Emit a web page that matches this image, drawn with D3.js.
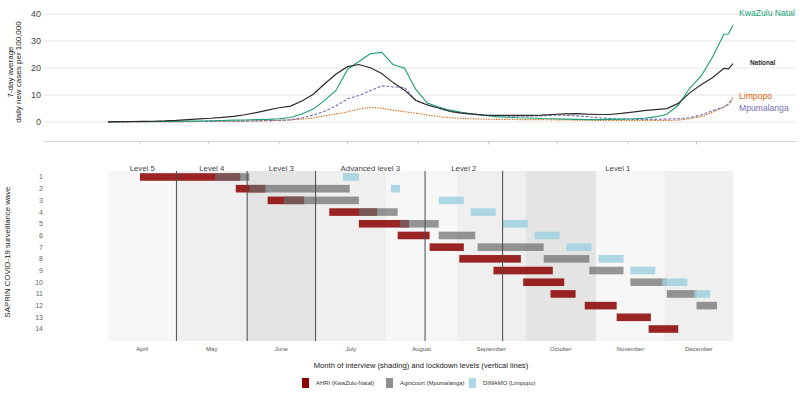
<!DOCTYPE html>
<html><head><meta charset="utf-8">
<script src="https://cdn.jsdelivr.net/npm/d3@7"></script>
<style>body{margin:0;background:#fff;} svg{font-family:"Liberation Sans",Arial,sans-serif;display:block;}</style>
</head><body><svg id="c" width="800" height="400"></svg>
<script>
const dates = [
 "2020-04-01","2020-04-06","2020-04-11","2020-04-16","2020-04-21","2020-04-26","2020-05-01","2020-05-06","2020-05-11","2020-05-16",
 "2020-05-21","2020-05-26","2020-05-31","2020-06-05","2020-06-10","2020-06-15","2020-06-20","2020-06-25","2020-06-30","2020-07-05",
 "2020-07-10","2020-07-15","2020-07-20","2020-07-25","2020-07-30","2020-08-04","2020-08-09","2020-08-14","2020-08-19","2020-08-24",
 "2020-08-29","2020-09-03","2020-09-08","2020-09-13","2020-09-18","2020-09-23","2020-09-28","2020-10-03","2020-10-08","2020-10-13",
 "2020-10-18","2020-10-23","2020-10-28","2020-11-02","2020-11-07","2020-11-12","2020-11-17","2020-11-22","2020-11-27","2020-12-02",
 "2020-12-07","2020-12-12","2020-12-17","2020-12-22","2020-12-27","2020-12-29","2020-12-31"];
const national = [
 0.1,0.15,0.2,0.25,0.3,0.4,0.6,0.9,1.2,1.4,
 1.7,2.1,2.7,3.5,4.4,5.3,5.9,7.8,10.3,14.2,
 17.8,20.5,21.3,20.1,18.0,14.6,11.8,8.0,6.3,5.2,
 3.9,3.3,2.9,2.6,2.5,2.5,2.5,2.5,2.6,2.8,
 3.0,3.1,2.9,2.8,2.8,3.2,3.7,4.2,4.6,5.0,
 6.9,10.8,13.8,16.4,19.9,19.7,21.6];
const kwazuluNatal = [
 0.05,0.1,0.1,0.15,0.2,0.25,0.3,0.35,0.4,0.5,
 0.6,0.7,0.75,0.9,1.0,1.2,1.7,3.0,4.8,8.0,
 11.8,19.5,22.4,25.3,25.8,21.3,19.9,12.0,7.0,5.6,
 4.4,3.6,3.0,2.4,2.0,1.8,1.6,1.5,1.3,1.2,
 1.1,1.0,0.9,0.9,1.0,1.1,1.2,1.4,1.9,2.9,
 6.2,12.5,17.0,24.0,32.5,32.6,35.8];
const limpopo = [
 0.05,0.05,0.05,0.1,0.1,0.1,0.15,0.15,0.2,0.2,
 0.25,0.3,0.35,0.45,0.55,0.7,0.8,1.1,1.5,2.3,
 3.0,3.8,4.8,5.4,5.1,4.4,3.8,3.3,2.6,2.0,
 1.6,1.4,1.2,1.1,1.0,1.0,0.9,0.9,0.9,0.8,
 0.8,0.7,0.7,0.6,0.6,0.6,0.6,0.6,0.6,0.6,
 0.7,1.2,2.0,3.6,5.5,6.8,9.2];
const mpumalanga = [
 0.05,0.05,0.1,0.1,0.1,0.15,0.15,0.2,0.2,0.25,
 0.3,0.3,0.35,0.4,0.5,0.6,0.8,1.5,2.6,4.0,
 6.0,8.6,9.8,11.6,13.4,13.0,12.8,8.0,6.5,5.0,
 4.0,3.3,2.9,2.6,2.4,2.2,2.2,2.2,2.3,2.5,
 2.5,2.3,2.0,1.6,1.3,1.1,1.0,1.0,1.0,1.1,
 1.2,1.6,2.6,4.2,5.6,6.6,8.4];
const seriesNames = ["Limpopo","Mpumalanga","KwaZulu Natal","National"];
const yTicks = [0,10,20,30,40];

const months = ["April","May","June","July","August","September","October","November","December"];
const monthStarts = ["2020-04-01","2020-05-01","2020-06-01","2020-07-01","2020-08-01","2020-09-01","2020-10-01","2020-11-01","2020-12-01","2020-12-31"];
const monthShade = [1,2,3,2,1,2,3,1,2];
const levels = ["Level 5","Level 4","Level 3","Advanced level 3","Level 2","Level 1"];
const levelStarts = ["2020-04-01","2020-05-01","2020-06-01","2020-07-01","2020-08-18","2020-09-21","2020-12-31"];
const waves = [1,2,3,4,5,6,7,8,9,10,11,12,13,14];

const ahriWave  = [1,2,3,4,5,6,7,8,9,10,11,12,13,14];
const ahriStart = ["2020-04-15","2020-05-27","2020-06-10","2020-07-07","2020-07-20","2020-08-06","2020-08-20","2020-09-02","2020-09-17","2020-09-30","2020-10-12","2020-10-27","2020-11-10","2020-11-24"];
const ahriEnd   = ["2020-05-29","2020-06-09","2020-06-26","2020-07-28","2020-08-11","2020-08-20","2020-09-04","2020-09-29","2020-10-13","2020-10-18","2020-10-23","2020-11-10","2020-11-25","2020-12-07"];
const agWave  = [1,2,3,4,5,6,7,8,9,10,11,12];
const agStart = ["2020-05-18","2020-06-02","2020-06-17","2020-07-20","2020-08-07","2020-08-24","2020-09-10","2020-10-09","2020-10-29","2020-11-16","2020-12-02","2020-12-15"];
const agEnd   = ["2020-06-02","2020-07-16","2020-07-20","2020-08-06","2020-08-24","2020-09-09","2020-10-09","2020-10-29","2020-11-13","2020-12-02","2020-12-15","2020-12-24"];
const dimWave  = [1,2,3,4,5,6,7,8,9,10,11];
const dimStart = ["2020-07-13","2020-08-03","2020-08-24","2020-09-07","2020-09-21","2020-10-05","2020-10-19","2020-11-02","2020-11-16","2020-11-30","2020-12-14"];
const dimEnd   = ["2020-07-20","2020-08-07","2020-09-04","2020-09-18","2020-10-02","2020-10-16","2020-10-30","2020-11-13","2020-11-27","2020-12-11","2020-12-21"];
const sites = ["AHRI (KwaZulu-Natal)","Agincourt (Mpumalanga)","DIMAMO (Limpopo)"];

(function () {
const parse = d3.timeParse("%Y-%m-%d");
const svg = d3.select("#c");
const x = d3.scaleTime().domain([parse("2020-04-01"), parse("2020-12-31")]).range([108, 733]);

// ---------- top panel ----------
const y = d3.scaleLinear().domain([-7.2, 40]).range([141.5, 14]);
const gTop = svg.append("g");
gTop.selectAll("line.grid").data(yTicks).join("line")
  .attr("x1", 44).attr("x2", 796).attr("y1", d => y(d)).attr("y2", d => y(d))
  .attr("stroke", "#e6e6e6").attr("stroke-width", 1);
gTop.selectAll("text.yt").data(yTicks).join("text")
  .attr("x", 41).attr("y", d => y(d)).attr("dy", "0.35em")
  .attr("text-anchor", "end").attr("font-size", 9).attr("fill", "#444").text(d => d);
gTop.append("line").attr("x1", 44).attr("x2", 797).attr("y1", 141.5).attr("y2", 141.5)
  .attr("stroke", "#d6d6d6");
const midMonths = monthStarts.slice(0, 9).map(s => d3.timeDay.offset(parse(s), 14));
gTop.selectAll("line.xt").data(midMonths).join("line")
  .attr("x1", d => x(d)).attr("x2", d => x(d)).attr("y1", 141.5).attr("y2", 144.5)
  .attr("stroke", "#c8c8c8");
gTop.append("text").attr("transform", "translate(12.5,72) rotate(-90)")
  .attr("text-anchor", "middle").attr("font-size", 8).attr("fill", "#222")
  .text("7-day average");
gTop.append("text").attr("transform", "translate(20.5,72) rotate(-90)")
  .attr("text-anchor", "middle").attr("font-size", 8).attr("fill", "#222")
  .text("daily new cases per 100,000");

const seriesData = [limpopo, mpumalanga, kwazuluNatal, national];
const seriesColor = ["#d95f02", "#7570b3", "#1b9e77", "#2b2b2b"];
const seriesDash = ["1.3,1.3", "3,1.6", null, null];
const line = d3.line().x((d, i) => x(parse(dates[i]))).y(d => y(d));
seriesData.forEach((s, k) => {
  gTop.append("path").datum(s).attr("d", line).attr("fill", "none")
    .attr("stroke", seriesColor[k]).attr("stroke-width", k === 3 ? 1.2 : 1.1)
    .attr("stroke-dasharray", seriesDash[k]);
});
const lastI = dates.length - 1;
const labelSpec = [
  {k: 2, dx: 6, yOff: -12.5, size: 8.6},
  {k: 3, dx: 17, yOff: -0.5, size: 6.4},
  {k: 0, dx: 6, yOff: -1.5, size: 8.6},
  {k: 1, dx: 6, yOff: 8.5, size: 8.6}
];
labelSpec.forEach(l => {
  const s = seriesData[l.k];
  gTop.append("text").attr("x", x(parse(dates[lastI])) + l.dx)
    .attr("y", y(s[lastI]) + l.yOff).attr("dy", "0.35em")
    .attr("font-size", l.size).attr("fill", seriesColor[l.k])
    .attr("font-weight", l.k === 3 ? "bold" : "normal")
    .text(seriesNames[l.k]);
});

// ---------- bottom panel ----------
const yb = d3.scalePoint().domain(waves).range([177, 329]);
const bot = svg.append("g");
const shadeColor = d3.scaleOrdinal().domain([1, 2, 3]).range(["#f7f7f7", "#efefef", "#e4e4e4"]);
bot.selectAll("rect.m").data(months).join("rect")
  .attr("x", (d, i) => x(parse(monthStarts[i])))
  .attr("width", (d, i) => x(parse(monthStarts[i + 1])) - x(parse(monthStarts[i])))
  .attr("y", 171).attr("height", 170)
  .attr("fill", (d, i) => shadeColor(monthShade[i]));
bot.selectAll("text.m").data(months).join("text")
  .attr("x", (d, i) => (x(parse(monthStarts[i])) + x(parse(monthStarts[i + 1]))) / 2)
  .attr("y", 351).attr("text-anchor", "middle").attr("font-size", 6).attr("fill", "#555")
  .text(d => d);

function bars(wave, starts, ends, color, op) {
  bot.append("g").selectAll("rect").data(wave).join("rect")
    .attr("x", (d, i) => x(parse(starts[i])))
    .attr("width", (d, i) => x(parse(ends[i])) - x(parse(starts[i])))
    .attr("y", d => yb(d) - 3.8).attr("height", 7.6)
    .attr("fill", color).attr("fill-opacity", op);
}
bars(ahriWave, ahriStart, ahriEnd, "#8b0000", 0.85);
bars(agWave, agStart, agEnd, "#6b6b6b", 0.7);
bars(dimWave, dimStart, dimEnd, "#9ccfe0", 0.8);

bot.selectAll("line.lv").data(levelStarts.slice(1, 6)).join("line")
  .attr("x1", d => x(parse(d))).attr("x2", d => x(parse(d)))
  .attr("y1", 171).attr("y2", 341).attr("stroke", "#4a4a4a").attr("stroke-width", 1);
bot.selectAll("text.lv").data(levels).join("text")
  .attr("x", (d, i) => (x(parse(levelStarts[i])) + x(parse(levelStarts[i + 1]))) / 2)
  .attr("y", 170.5).attr("text-anchor", "middle").attr("font-size", 7.8).attr("fill", "#444")
  .text(d => d);
bot.selectAll("text.w").data(waves).join("text")
  .attr("x", 43).attr("y", d => yb(d)).attr("dy", "0.35em").attr("text-anchor", "end")
  .attr("font-size", 7).attr("fill", "#666").text(d => d);
bot.append("text").attr("transform", "translate(10,252) rotate(-90)")
  .attr("text-anchor", "middle").attr("font-size", 7.8).attr("fill", "#222")
  .text("SAPRIN COVID-19 surveillance wave");
bot.append("text").attr("x", 421).attr("y", 368).attr("text-anchor", "middle")
  .attr("font-size", 7.6).attr("fill", "#222")
  .text("Month of interview (shading) and lockdown levels (vertical lines)");

const legColor = ["#8b0000", "#8f8f8f", "#add8e6"];
const legX = [302, 386, 469];
const leg = svg.append("g");
sites.forEach((s, i) => {
  leg.append("rect").attr("x", legX[i]).attr("y", 378).attr("width", 7).attr("height", 10)
    .attr("fill", legColor[i]);
  leg.append("text").attr("x", legX[i] + 14).attr("y", 383).attr("dy", "0.35em")
    .attr("font-size", 5.9).attr("fill", "#333").text(s);
});
})();
</script></body></html>
